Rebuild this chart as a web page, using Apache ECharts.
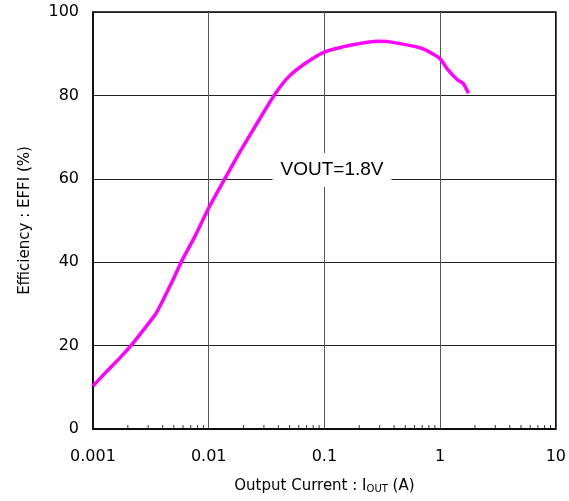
<!DOCTYPE html>
<html>
<head>
<meta charset="utf-8">
<script src="https://cdn.jsdelivr.net/npm/echarts@6/dist/echarts.min.js"></script>
<style>
  html, body { margin: 0; padding: 0; background: #fff; }
  #chart { width: 569px; height: 501px; }
</style>
</head>
<body>
<div id="chart"></div>
<script>
// efficiency curve (x = output current in A, y = %)
const currentA = [0.001, 0.0013, 0.0017, 0.0021, 0.0027, 0.0035, 0.0043, 0.0049, 0.0059, 0.0075,
  0.01, 0.0141, 0.0183, 0.0272, 0.0378, 0.0492, 0.0685, 0.1, 0.172, 0.292, 0.357, 0.69, 0.99,
  1.17, 1.42, 1.58, 1.76];
const efficiency = [10.3, 13.7, 17.0, 19.8, 23.6, 27.7, 32.5, 35.7, 40.5, 45.9,
  53.0, 60.5, 66.1, 74.1, 80.5, 84.5, 87.7, 90.4, 92.1, 93.0, 92.9, 91.3, 88.9,
  86.1, 83.7, 82.9, 80.5];

const xTickLabels = ["0.001", "0.01", "0.1", "1", "10"];
const yTicks = [0, 20, 40, 60, 80, 100];
const decades = [0.001, 0.01, 0.1, 1];
const minorSteps = [2, 3, 4, 5, 6, 7, 8, 9];

// minor ticks of the log axis (2..9 in each decade)
const minorTicks = [];
decades.forEach((d) => minorSteps.forEach((m) => minorTicks.push([+(d * m).toPrecision(3), 0])));

const font = "DejaVu Sans, sans-serif";
const chart = echarts.init(document.getElementById("chart"));

chart.setOption({
  animation: false,
  grid: {
    left: 93, right: 11, top: 12, bottom: 72,
    show: true, borderColor: "#000", borderWidth: 1.5, backgroundColor: "transparent",
  },
  xAxis: {
    type: "log",
    logBase: 10,
    min: 0.001,
    max: 10,
    name: "{a|Output Current : I}{s|OUT}{a| (A)}",
    nameLocation: "middle",
    nameGap: 49,
    nameTextStyle: {
      rich: {
        a: { fontFamily: font, fontSize: 15, color: "#000" },
        s: { fontFamily: font, fontSize: 10, color: "#000", verticalAlign: "bottom", padding: [6, 0, 0, 0] },
      },
    },
    axisLine: { lineStyle: { color: "#000", width: 1.5 } },
    axisTick: { show: false },
    axisLabel: {
      margin: 20,
      color: "#000",
      fontFamily: font,
      fontSize: 16,
      formatter: (v, i) => xTickLabels[i],
    },
    splitLine: { show: true, lineStyle: { color: "#555", width: 1 } },
  },
  yAxis: {
    type: "value",
    min: yTicks[0],
    max: yTicks[yTicks.length - 1],
    interval: 20,
    name: "Efficiency : EFFI (%)",
    nameLocation: "middle",
    nameGap: 60,
    nameTextStyle: { fontFamily: font, fontSize: 15, color: "#000" },
    axisLine: { show: true, lineStyle: { color: "#000", width: 1.5 } },
    axisTick: { show: false },
    axisLabel: { margin: 14, color: "#000", fontFamily: font, fontSize: 16 },
    splitLine: { show: true, lineStyle: { color: "#222", width: 1 } },
  },
  graphic: [{
    type: "text",
    x: 332,
    y: 170,
    z: 100,
    style: {
      text: "VOUT=1.8V",
      font: "19px Liberation Sans, Arial, sans-serif",
      fill: "#000",
      align: "center",
      verticalAlign: "middle",
      backgroundColor: "#fff",
      padding: [8, 8, 7, 8],
    },
  }],
  series: [
    {
      type: "line",
      data: currentA.map((x, i) => [x, efficiency[i]]),
      showSymbol: false,
      smooth: 0.2,
      lineStyle: { color: "#ff00ff", width: 3.5 },
      z: 5,
    },
    {
      type: "scatter",
      data: minorTicks,
      symbol: "rect",
      symbolSize: [1, 4],
      symbolOffset: [0, -2],
      itemStyle: { color: "#000" },
      silent: true,
      z: 4,
    },
  ],
});
</script>
</body>
</html>
